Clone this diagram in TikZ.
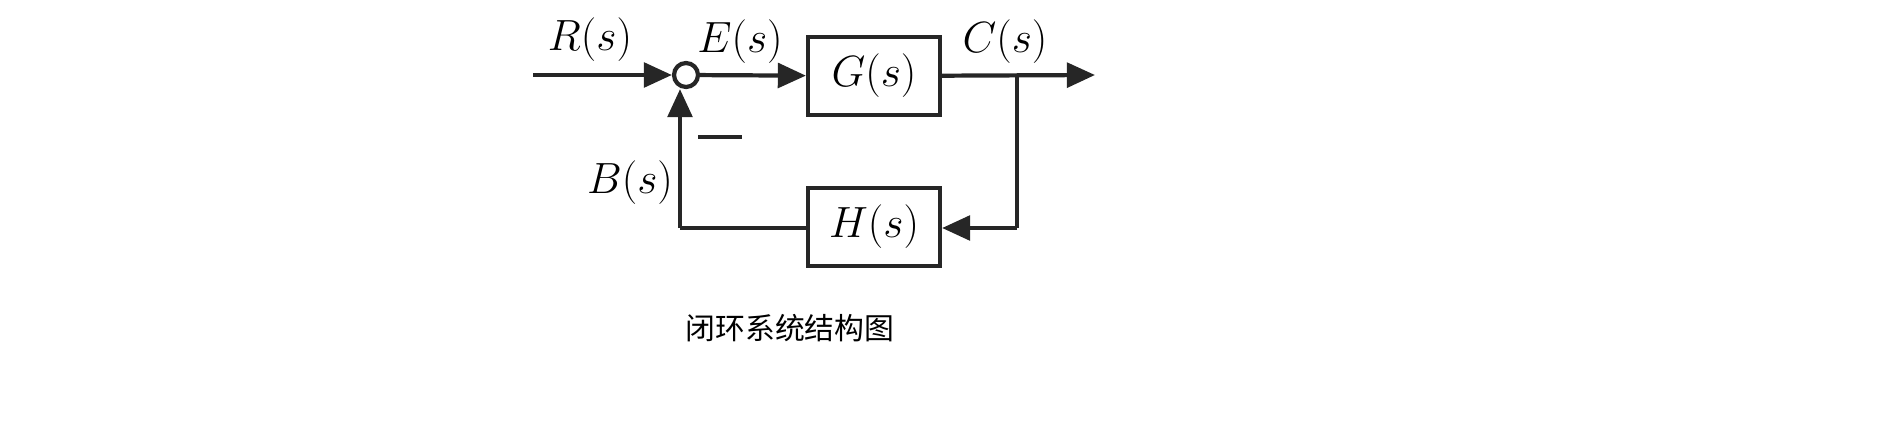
\documentclass[tikz,border=0pt]{standalone}
\usepackage{fontspec}
\newfontfamily\cjk{Noto Sans CJK SC}
\usetikzlibrary{arrows.meta}
\begin{document}
\begin{tikzpicture}[x=0.02cm,y=-0.02cm,
  ln/.style={line width=2.4pt,draw=black!85},
  arr/.style={ln,-{Triangle[length=16pt,width=14pt]}},
  blk/.style={draw=black!85,line width=2.4pt,minimum width=2.64cm,minimum height=1.56cm,inner sep=0pt,font=\fontsize{26}{30}\selectfont},
  lab/.style={font=\fontsize{26}{30}\selectfont}]
\useasboundingbox (0,0) rectangle (1897,447);
\node[circle,draw=black!85,line width=2.4pt,minimum size=0.48cm,inner sep=0pt] (sum) at (686,75) {};
\node[blk] (G) at (874,76) {$G(s)$};
\node[blk] (H) at (874,227) {$H(s)$};
\coordinate (in) at (533,75);
\coordinate (out) at (1095,75);
\coordinate (br) at (1017,75);
\coordinate (br2) at (1017,228);
\coordinate (bl) at (680,228);
\draw[arr] (in) -- (sum);
\draw[arr] (sum) -- (G);
\draw[arr] (G) -- (out);
\draw[ln] (br) -- (br2);
\draw[arr] (br2) -- (H.east |- br2);
\draw[ln] (H.west |- bl) -- (bl);
\draw[arr] (bl) -- (sum.south -| bl);
\node[lab] (R) at (590,40) {$R(s)$};
\node[lab] (E) at (740,42) {$E(s)$};
\node[lab] (C) at (1005,42) {$C(s)$};
\node[lab] (B) at (630,183) {$B(s)$};
\coordinate (m1) at (698,137); \coordinate (m2) at (742,137);
\draw[ln] (m1) -- (m2);
\node[font=\cjk\fontsize{17}{20}\selectfont] (cap) at (790,328) {闭环系统结构图};
\end{tikzpicture}
\end{document}
